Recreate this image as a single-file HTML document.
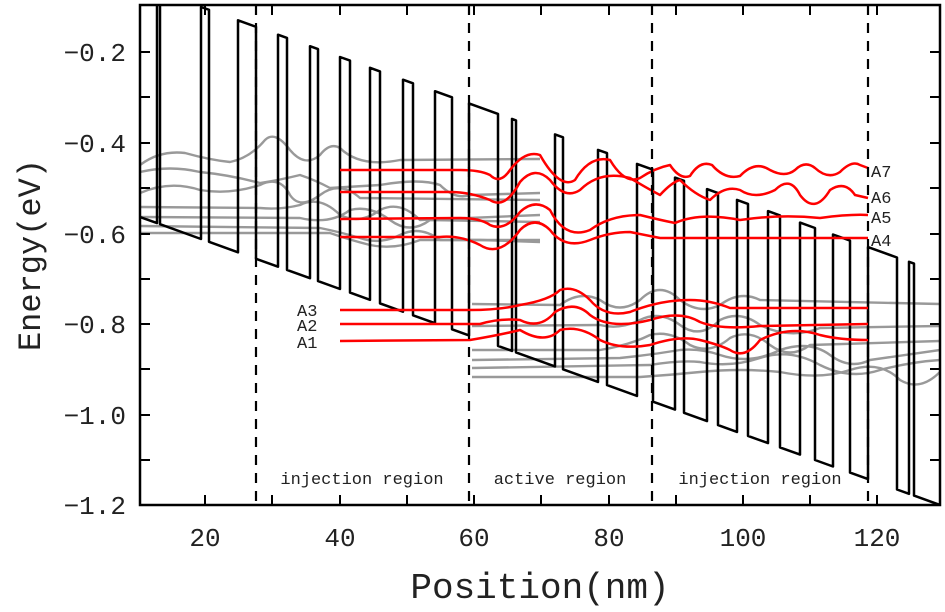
<!DOCTYPE html>
<html><head><meta charset="utf-8"><style>
html,body{margin:0;padding:0;background:#fff;}
svg{display:block;}
text{font-family:"Liberation Mono","DejaVu Sans Mono",monospace;fill:#222;}
</style></head><body>
<svg width="945" height="612" viewBox="0 0 945 612" xmlns="http://www.w3.org/2000/svg">
<defs><clipPath id="c"><rect x="140" y="5" width="800" height="500"/></clipPath></defs>
<g clip-path="url(#c)" fill="none" stroke-linejoin="round">
<g stroke="#999" stroke-width="2.4">
<path d="M140,165 Q160,150 185,153 Q210,160 230,162 Q250,158 265,140 Q275,130 290,150 Q305,168 320,155 Q330,142 340,148 Q360,168 400,160 L540,159"/>
<path d="M140,172 Q170,165 200,172 Q230,175 260,183 Q280,180 300,175 Q315,180 330,188 L380,185 Q420,178 440,185 Q455,200 470,195 L540,193"/>
<path d="M140,193 Q170,180 200,190 Q230,195 260,185 Q280,175 290,195 Q300,210 320,195 Q340,180 360,198 L540,200"/>
<path d="M140,207 L260,208 Q280,210 300,205 Q320,195 340,215 Q360,225 380,210 Q400,200 420,220 L540,215"/>
<path d="M140,217 L300,218 Q330,225 350,210 Q370,205 390,220 Q410,235 430,220 L540,222"/>
<path d="M140,226 L320,228 Q340,232 360,238 Q380,245 400,235 Q420,225 440,240 L540,240"/>
<path d="M140,233 L330,233 Q350,240 370,245 Q395,250 420,240 L480,240 L540,242"/>
<path d="M472,304 L560,305 Q580,290 600,300 Q620,315 640,300 Q660,280 680,300 Q700,315 720,305 Q740,290 760,300 L940,304"/>
<path d="M472,326 L600,325 Q620,330 640,320 Q660,310 680,325 Q700,340 720,320 Q740,310 760,325 Q790,340 820,328 L940,326"/>
<path d="M472,350 L600,350 Q630,345 650,335 Q670,330 690,345 Q710,355 730,338 Q750,328 770,345 Q790,360 810,345 L940,341"/>
<path d="M472,360 L620,358 Q650,355 680,350 Q700,348 720,355 Q750,365 780,350 Q810,340 830,355 Q850,370 870,360 L940,350"/>
<path d="M472,368 L650,365 Q680,360 700,362 Q730,368 760,358 Q790,348 820,365 Q850,380 880,370 Q910,362 940,360"/>
<path d="M472,377 L640,377 Q670,375 700,372 Q740,368 780,372 Q820,380 850,370 Q880,360 900,380 Q920,392 940,372"/>
</g>
<polyline stroke="#000" stroke-width="2.5" points="140,217 157,223.1 157,-8.9 160,-7.8 160,224.2 201,239 201,7 209,9.8 209,241.8 238,252.3 238,20.3 256,26.8 256,258.8 278,266.7 278,34.7 287,37.9 287,269.9 310,278.2 310,46.2 318,49.1 318,281.1 340,289 340,57 350,60.6 350,292.6 370,299.8 370,67.8 380,71.4 380,303.4 403,311.7 403,79.7 413,83.3 413,315.3 435,323.2 435,91.2 452,97.3 452,329.3 469,335.4 469,103.4 498,113.9 498,345.9 512,350.9 512,118.9 516,120.4 516,352.4 555,366.4 555,134.4 563,137.3 563,369.3 598,381.9 598,149.9 607,153.1 607,385.1 637,395.9 637,163.9 653,169.7 653,401.7 675,409.6 675,177.6 684,180.8 684,412.8 707,421.1 707,189.1 718,193.1 718,425.1 737,431.9 737,199.9 748,203.9 748,435.9 768,443.1 768,211.1 780,215.4 780,447.4 800,454.6 800,222.6 815,228 815,460 833,466.5 833,234.5 850,240.6 850,472.6 868,479.1 868,247.1 897,257.5 897,489.5 909,493.8 909,261.8 914,263.6 914,495.6 940,505"/>
<g stroke="#f00" stroke-width="2.5">
<path d="M340,170 L460,170 Q480,170 490,175 Q500,185 510,170 Q525,150 540,155 Q560,190 575,180 Q590,155 610,160 Q625,185 640,178 Q655,168 670,165 Q680,180 690,176 Q700,160 712,165 Q725,180 740,176 Q755,160 770,170 Q785,178 795,170 Q805,160 815,168 Q828,180 840,172 Q852,160 860,165 L868,168"/>
<path d="M340,192 L450,192 Q470,192 490,200 Q505,210 520,182 Q535,165 550,180 Q565,200 580,190 Q600,170 630,178 Q650,190 660,195 Q672,182 680,180 Q695,195 710,200 Q725,185 740,190 Q755,200 775,190 Q790,175 800,195 Q815,215 830,190 Q845,180 855,195 L868,198"/>
<path d="M340,219 L460,218 Q480,218 490,225 Q505,232 520,212 Q535,198 550,210 Q565,240 590,230 Q610,215 640,215 Q660,220 675,223 Q700,212 740,220 Q780,214 820,218 Q850,214 868,215"/>
<path d="M340,237 L440,237 Q460,235 480,245 Q500,258 520,230 Q535,215 550,230 Q565,250 590,240 Q610,232 630,232 Q645,235 660,238 L868,238"/>
<path d="M340,310 L470,310 Q500,310 520,305 Q550,300 560,290 Q575,285 590,300 Q605,318 630,312 Q660,300 690,300 Q710,300 730,308 L868,308"/>
<path d="M340,324 L480,324 Q500,318 520,320 Q540,330 555,312 Q575,300 590,315 Q610,330 650,320 Q680,310 700,322 Q720,330 760,326 L868,324"/>
<path d="M340,341 L470,340 Q500,335 520,330 Q545,345 560,330 Q580,325 600,340 Q620,350 650,345 Q680,335 700,340 Q720,345 730,350 Q745,360 760,340 Q790,325 820,335 Q840,340 868,340"/>
</g>
<g stroke="#000" stroke-width="2.2" stroke-dasharray="10,8">
<line x1="256" y1="5" x2="256" y2="505"/><line x1="469" y1="5" x2="469" y2="505"/>
<line x1="652" y1="5" x2="652" y2="505"/><line x1="868" y1="5" x2="868" y2="505"/>
</g>
</g>
<rect x="140" y="5" width="800" height="500" fill="none" stroke="#000" stroke-width="2.5"/>
<g stroke="#000" stroke-width="2">
<path d="M140,52h10M140,97h10M140,143h10M140,188h10M140,234h10M140,279h10M140,324h10M140,369h10M140,415h10M140,460h10
M940,52h-10M940,97h-10M940,143h-10M940,188h-10M940,234h-10M940,279h-10M940,324h-10M940,369h-10M940,415h-10M940,460h-10
M205,505v-10M272,505v-10M340,505v-10M407,505v-10M474,505v-10M541,505v-10M609,505v-10M676,505v-10M743,505v-10M810,505v-10M877,505v-10
M205,5v10M272,5v10M340,5v10M407,5v10M474,5v10M541,5v10M609,5v10M676,5v10M743,5v10M810,5v10M877,5v10"/>
</g>
<g font-size="26" text-anchor="end">
<text x="126" y="61">−0.2</text><text x="126" y="152">−0.4</text><text x="126" y="243">−0.6</text>
<text x="126" y="333">−0.8</text><text x="126" y="424">−1.0</text><text x="126" y="514">−1.2</text>
</g>
<g font-size="26" text-anchor="middle">
<text x="205" y="546">20</text><text x="340" y="546">40</text><text x="474" y="546">60</text>
<text x="609" y="546">80</text><text x="743" y="546">100</text><text x="877" y="546">120</text>
</g>
<text x="540" y="598" font-size="36" text-anchor="middle" fill="#333">Position(nm)</text>
<text transform="translate(40,255) rotate(-90)" font-size="32" text-anchor="middle" fill="#333">Energy(eV)</text>
<g font-size="17" text-anchor="middle" fill="#333">
<text x="362" y="484">injection region</text>
<text x="560" y="484">active region</text>
<text x="760" y="484">injection region</text>
</g>
<g font-size="17" font-family="Liberation Serif, serif">
<text x="871" y="177">A7</text><text x="871" y="203">A6</text><text x="871" y="223">A5</text><text x="871" y="246">A4</text>
<text x="297" y="316">A3</text><text x="297" y="331">A2</text><text x="297" y="348">A1</text>
</g>
</svg>
</body></html>
